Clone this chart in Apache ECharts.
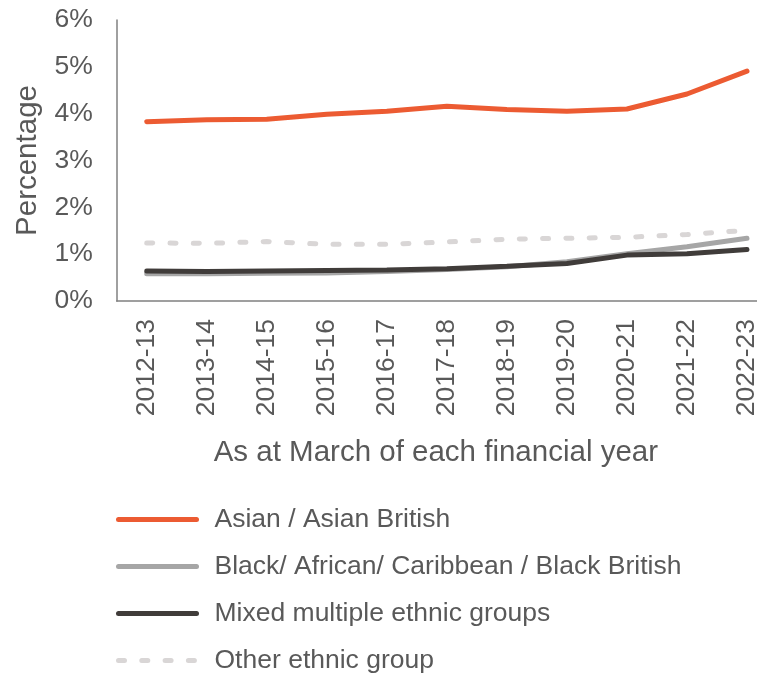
<!DOCTYPE html>
<html>
<head>
<meta charset="utf-8">
<script src="https://cdn.jsdelivr.net/npm/echarts@6/dist/echarts.min.js"></script>
<style>
html,body{margin:0;padding:0;background:#fff;overflow:hidden;width:757px;height:675px;}
#chart{width:777px;height:675px;}
</style>
</head>
<body>
<div id="chart"></div>
<script>
const categories = ['2012-13','2013-14','2014-15','2015-16','2016-17','2017-18','2018-19','2019-20','2020-21','2021-22','2022-23'];
const asian = [3.83, 3.87, 3.88, 3.99, 4.05, 4.16, 4.09, 4.05, 4.10, 4.42, 4.91];
const black = [0.58, 0.58, 0.59, 0.60, 0.63, 0.67, 0.73, 0.84, 1.01, 1.16, 1.34];
const mixed = [0.64, 0.63, 0.64, 0.65, 0.66, 0.69, 0.74, 0.80, 0.98, 1.01, 1.10];
const other = [1.24, 1.23, 1.27, 1.21, 1.21, 1.26, 1.32, 1.34, 1.36, 1.42, 1.51];
const yTicks = [0, 1, 2, 3, 4, 5, 6];
const seriesNames = ['Asian / Asian British', 'Black/ African/ Caribbean / Black British', 'Mixed multiple ethnic groups', 'Other ethnic group'];

const FONT = '"Liberation Sans", Arial, sans-serif';
const TXT = '#595959';

const chart = echarts.init(document.getElementById('chart'));
chart.setOption({
  animation: false,
  textStyle: { fontFamily: FONT, color: TXT },
  grid: { left: 116.7, right: 0, top: 20, bottom: 374, containLabel: false },
  xAxis: {
    type: 'category',
    data: categories,
    boundaryGap: true,
    axisLine: { lineStyle: { color: '#808080', width: 1.5 } },
    axisTick: { show: false },
    axisLabel: { rotate: 90, interval: 0, margin: 18, fontSize: 26.5, color: TXT, fontFamily: FONT },
    name: 'As at March of each financial year',
    nameLocation: 'middle',
    nameGap: 137,
    nameTextStyle: { fontSize: 29.5, color: TXT, fontFamily: FONT, padding: [0, 22, 0, 0] },
    splitLine: { show: false }
  },
  yAxis: {
    type: 'value',
    min: yTicks[0],
    max: yTicks[yTicks.length - 1],
    interval: 1,
    axisLine: { show: true, lineStyle: { color: '#808080', width: 1.5 } },
    axisTick: { show: false },
    splitLine: { show: false },
    axisLabel: { margin: 24, fontSize: 26.5, color: TXT, fontFamily: FONT, formatter: '{value}%' },
    name: 'Percentage',
    nameLocation: 'middle',
    nameRotate: 90,
    nameGap: 74,
    nameTextStyle: { fontSize: 29.5, color: TXT, fontFamily: FONT }
  },
  legend: {
    orient: 'vertical',
    left: 116,
    top: 506,
    height: 220,
    padding: 0,
    itemWidth: 78,
    itemHeight: 10,
    itemGap: 20,
    itemStyle: { opacity: 0, borderWidth: 0 },
    lineStyle: { width: 5, cap: 'round' },
    textStyle: { fontSize: 26.5, color: TXT, fontFamily: FONT, padding: [0, 0, 0, 13] },
    data: seriesNames
  },
  series: [
    { name: seriesNames[0], type: 'line', data: asian, symbol: 'none', color: '#EC5B32',
      lineStyle: { width: 5, color: '#EC5B32', cap: 'round' } },
    { name: seriesNames[1], type: 'line', data: black, symbol: 'none', color: '#A6A6A6',
      lineStyle: { width: 5, color: '#A6A6A6', cap: 'round' } },
    { name: seriesNames[2], type: 'line', data: mixed, symbol: 'none', color: '#403C3A',
      lineStyle: { width: 5, color: '#403C3A', cap: 'round' } },
    { name: seriesNames[3], type: 'line', data: other, symbol: 'none', color: '#D9D6D6',
      lineStyle: { width: 5, color: '#D9D6D6', type: [6, 17.3], cap: 'round' } }
  ]
});
</script>
</body>
</html>
